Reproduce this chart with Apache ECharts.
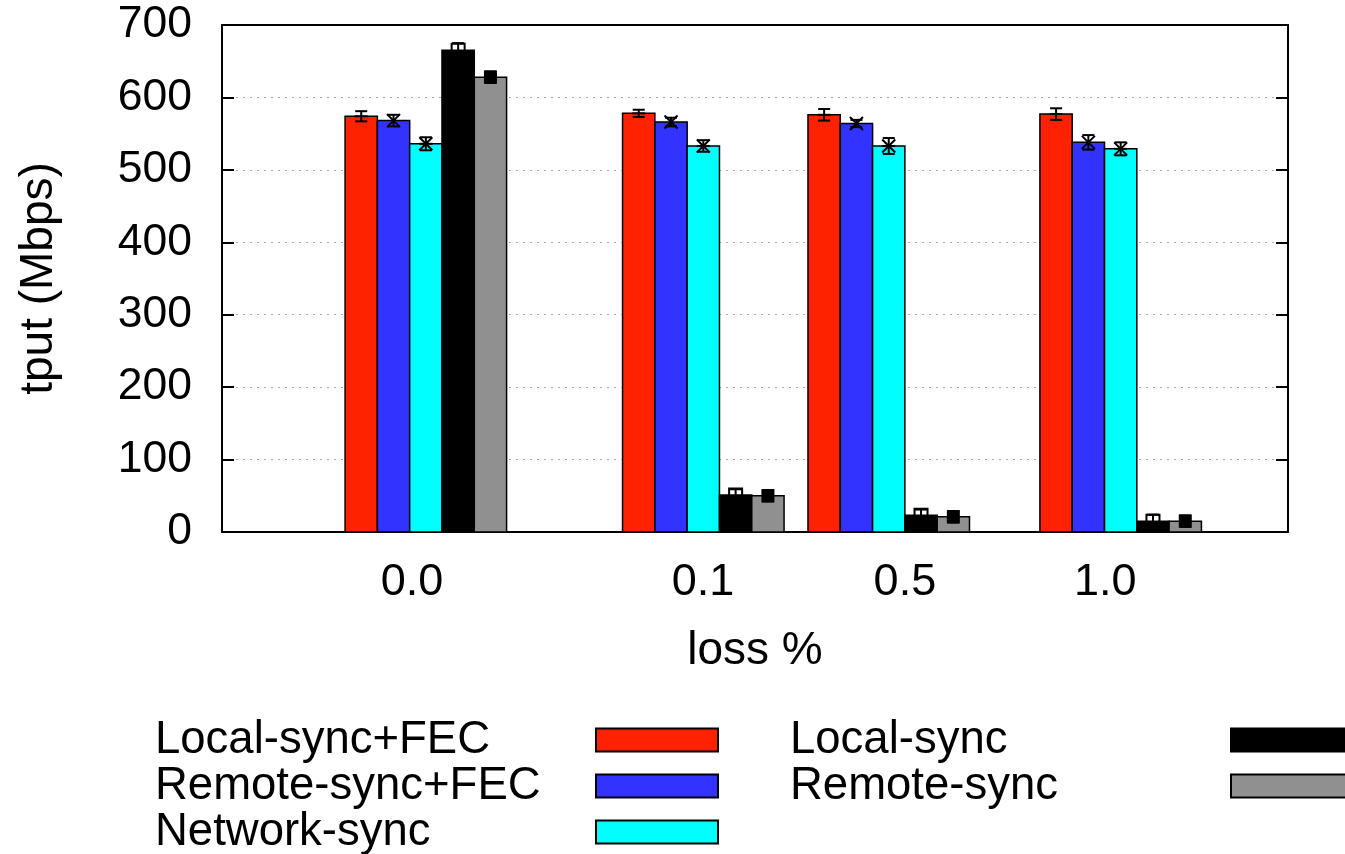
<!DOCTYPE html>
<html>
<head>
<meta charset="utf-8">
<script src="https://cdn.jsdelivr.net/npm/echarts@6/dist/echarts.min.js"></script>
<style>
  html, body { margin: 0; padding: 0; background: #fff; }
  #chart { width: 1345px; height: 854px; }
</style>
</head>
<body>
<div id="chart"></div>
<script>
// loss categories and where each cluster sits on the (bar-width unit) x axis
var lossLabels = ['0.0', '0.1', '0.5', '1.0'];
var groupStart = [3.81, 12.40, 18.14, 25.32];
var labelPos = [5.88, 14.89, 21.14, 27.34];

var seriesNames = ['Local-sync+FEC', 'Remote-sync+FEC', 'Network-sync', 'Local-sync', 'Remote-sync'];
var seriesColors = ['#ff2200', '#3333ff', '#00ffff', '#000000', '#909090'];
var pointTypes = ['plus', 'cross', 'star', 'openSquare', 'filledSquare'];

// tput (Mbps) and error
var localFec = [574, 578, 576, 577];
var localFecErr = [7, 5, 8, 8];
var remoteFec = [568, 566, 564, 538];
var remoteFecErr = [8, 6, 5, 10];
var network = [536, 533, 533, 529];
var networkErr = [9, 8, 11, 9];
var local = [665, 51, 23, 15];
var localErr = [10, 8, 8, 9];
var remote = [628, 50, 21, 15];
var remoteErr = [8, 8, 8, 8];

var yTicks = [0, 100, 200, 300, 400, 500, 600, 700];

var values = [localFec, remoteFec, network, local, remote];
var errors = [localFecErr, remoteFecErr, networkErr, localErr, remoteErr];

var barW = 1;
var font = 'Liberation Sans, Arial, sans-serif';

function renderBar(params, api) {
    var s = params.seriesIndex;
    var x = api.value(0), v = api.value(1), e = api.value(2);
    var top = api.coord([x, v]);
    var base = api.coord([x, 0]);
    var w = api.size([barW, 0])[0];
    var hi = api.coord([x, v + e])[1];
    var lo = api.coord([x, v - e])[1];
    var cx = top[0], cy = top[1];
    var cap = 6, p = 6.5;
    var ln = { stroke: '#000', lineWidth: 2 };
    var children = [{
        type: 'rect',
        shape: { x: cx - w / 2, y: cy, width: w, height: base[1] - cy },
        style: { fill: api.visual('color'), stroke: '#000', lineWidth: 1.5 }
    }, {
        type: 'line', shape: { x1: cx, y1: hi, x2: cx, y2: lo }, style: ln
    }, {
        type: 'line', shape: { x1: cx - cap, y1: hi, x2: cx + cap, y2: hi }, style: ln
    }, {
        type: 'line', shape: { x1: cx - cap, y1: lo, x2: cx + cap, y2: lo }, style: ln
    }];
    var t = pointTypes[s];
    if (t === 'plus' || t === 'star') {
        children.push({ type: 'line', shape: { x1: cx - p, y1: cy, x2: cx + p, y2: cy }, style: ln });
    }
    if (t === 'cross' || t === 'star') {
        children.push({ type: 'line', shape: { x1: cx - p, y1: cy - p, x2: cx + p, y2: cy + p }, style: ln });
        children.push({ type: 'line', shape: { x1: cx - p, y1: cy + p, x2: cx + p, y2: cy - p }, style: ln });
    }
    if (t === 'openSquare') {
        children.push({ type: 'rect', shape: { x: cx - p, y: cy - p, width: 2 * p, height: 2 * p },
            style: { fill: 'none', stroke: '#000', lineWidth: 2 } });
    }
    if (t === 'filledSquare') {
        children.push({ type: 'rect', shape: { x: cx - p, y: cy - p, width: 2 * p, height: 2 * p },
            style: { fill: '#000' } });
    }
    return { type: 'group', children: children };
}

var series = seriesNames.map(function (name, s) {
    return {
        name: name,
        type: 'custom',
        renderItem: renderBar,
        itemStyle: { color: seriesColors[s] },
        encode: { x: 0, y: 1 },
        data: values[s].map(function (v, g) {
            return [groupStart[g] + s * barW + barW / 2, v, errors[s][g]];
        })
    };
});

function legendCol(names, left) {
    return {
        orient: 'vertical',
        left: left,
        top: 717,
        height: 140,
        padding: 0,
        align: 'right',
        icon: 'rect',
        itemWidth: 122,
        itemHeight: 23,
        itemGap: 0,
        selectedMode: false,
        formatter: function (n) { return '{a|' + n + '}'; },
        textStyle: {
            rich: {
                a: { width: 436, align: 'left', fontSize: 45.5, lineHeight: 46,
                     fontFamily: font, color: '#000' }
            }
        },
        data: names.map(function (n) {
            var i = seriesNames.indexOf(n);
            return { name: n, itemStyle: { color: seriesColors[i], borderColor: '#000', borderWidth: 2 } };
        })
    };
}

var option = {
    animation: false,
    backgroundColor: '#fff',
    grid: { left: 222, right: 57, top: 25, bottom: 322 },
    legend: [
        legendCol(seriesNames.slice(0, 3), 155),
        legendCol(seriesNames.slice(3), 790)
    ],
    xAxis: [{
        type: 'value',
        min: 0,
        max: 33,
        name: 'loss %',
        nameLocation: 'middle',
        nameGap: 96,
        nameTextStyle: { fontSize: 46, fontFamily: font, color: '#000' },
        axisLine: { show: true, lineStyle: { color: '#000', width: 2 } },
        axisTick: { show: false },
        splitLine: { show: false },
        axisLabel: {
            customValues: labelPos,
            fontSize: 45,
            fontFamily: font,
            color: '#000',
            margin: 28,
            formatter: function (val) {
                var i = labelPos.indexOf(val);
                return i >= 0 ? lossLabels[i] : '';
            }
        }
    }, {
        type: 'value',
        position: 'top',
        min: 0,
        max: 33,
        axisLine: { show: true, onZero: false, lineStyle: { color: '#000', width: 2 } },
        axisTick: { show: false },
        axisLabel: { show: false },
        splitLine: { show: false }
    }],
    yAxis: [{
        type: 'value',
        min: 0,
        max: 700,
        interval: 100,
        name: 'tput (Mbps)',
        nameLocation: 'middle',
        nameGap: 160,
        nameTextStyle: { fontSize: 46, fontFamily: font, color: '#000' },
        axisLine: { show: true, lineStyle: { color: '#000', width: 2 } },
        axisTick: { show: true, inside: true, length: 12, lineStyle: { color: '#000', width: 2 } },
        axisLabel: {
            fontSize: 44.5, fontFamily: font, color: '#000', margin: 30,
            customValues: yTicks
        },
        splitLine: { show: true, lineStyle: { color: '#aaa', type: [2, 5], width: 1 } }
    }, {
        type: 'value',
        position: 'right',
        min: 0,
        max: 700,
        interval: 100,
        axisLine: { show: true, onZero: false, lineStyle: { color: '#000', width: 2 } },
        axisTick: { show: true, inside: true, length: 12, lineStyle: { color: '#000', width: 2 } },
        axisLabel: { show: false },
        splitLine: { show: false }
    }],
    series: series
};

var myChart = echarts.init(document.getElementById('chart'));
myChart.setOption(option);
</script>
</body>
</html>
